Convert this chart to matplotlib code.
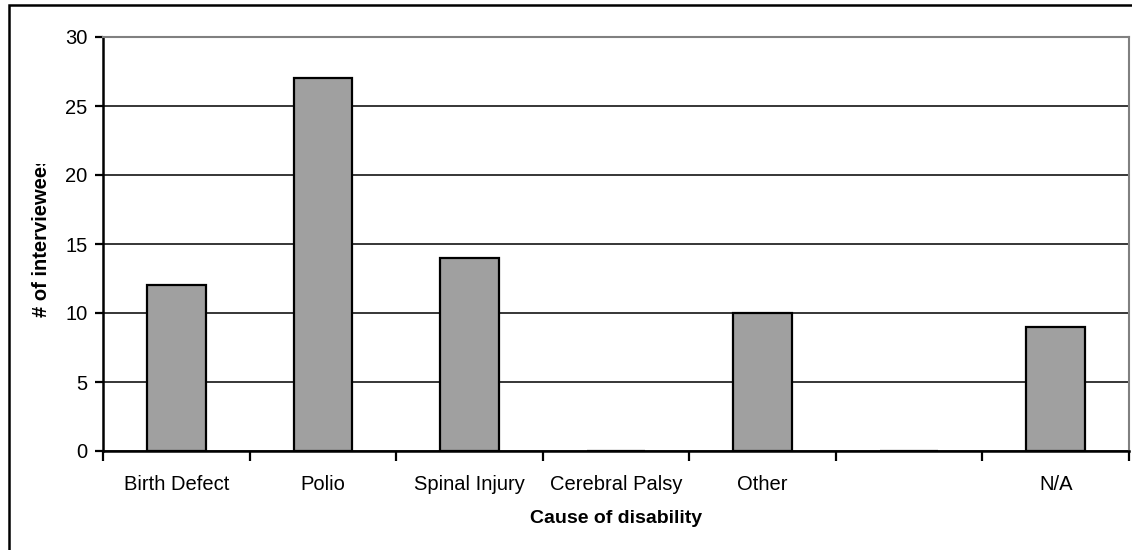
import matplotlib
matplotlib.use("Agg")
import matplotlib.pyplot as plt
from matplotlib.patches import Rectangle
from matplotlib.transforms import Bbox, TransformedBbox
import numpy as np

plt.rcParams['font.family'] = ['Liberation Sans', 'DejaVu Sans']

categories = ['Birth Defect', 'Polio', 'Spinal Injury', 'Cerebral Palsy', 'Other', '', 'N/A']
counts = [12, 27, 14, 0, 10, 0, 9]

W, H = 1132, 550
fig = plt.figure(figsize=(W / 100, H / 100), dpi=100)
ax = fig.add_axes([103 / W, 1 - 451 / H, (1129 - 103) / W, (451 - 37) / H])

x = np.arange(len(categories))
ax.bar(x, counts, width=0.4, color='#a0a0a0', edgecolor='black', linewidth=1.6, zorder=3)

ax.set_xlim(-0.5, len(categories) - 0.5)
ax.set_ylim(0, 30)
ax.set_yticks(range(0, 31, 5))
ax.yaxis.grid(True, color='black', linewidth=1.1, zorder=0)
ax.set_axisbelow(True)

# labels at the centers, tick marks at the boundaries
ax.set_xticks(x)
ax.set_xticklabels(categories, fontsize=14.5)
ax.set_xticks(np.arange(-0.5, len(categories)), minor=True)
ax.tick_params(axis='x', which='major', length=0, pad=17)
ax.tick_params(axis='x', which='minor', length=7, width=1.6, direction='out')
ax.tick_params(axis='y', length=6, width=1.6, direction='out', labelsize=14.5, pad=5)

for s in ['left', 'bottom']:
    ax.spines[s].set_linewidth(1.8)
    ax.spines[s].set_color('black')
for s in ['top', 'right']:
    ax.spines[s].set_linewidth(1.5)
    ax.spines[s].set_color('#808080')

ax.set_xlabel('Cause of disability', fontsize=14, fontweight='bold', labelpad=12)

# y label gets cut off at the top in the original
clip = TransformedBbox(Bbox([[0, 0], [1, 1 - 164 / H]]), fig.transFigure)
yl = fig.text(42 / W, 1 - 236 / H, '# of interviewees', rotation=90, ha='center', va='center',
              fontsize=14.5, fontweight='bold', clip_on=True)
yl.set_clip_box(clip)

# outer chart border
fig.patches.append(Rectangle((9 / W, -0.1), 1.2, 1 - 5 / H + 0.1, transform=fig.transFigure,
                             fill=False, edgecolor='black', linewidth=1.8))

fig.savefig('out.png', dpi=100)
